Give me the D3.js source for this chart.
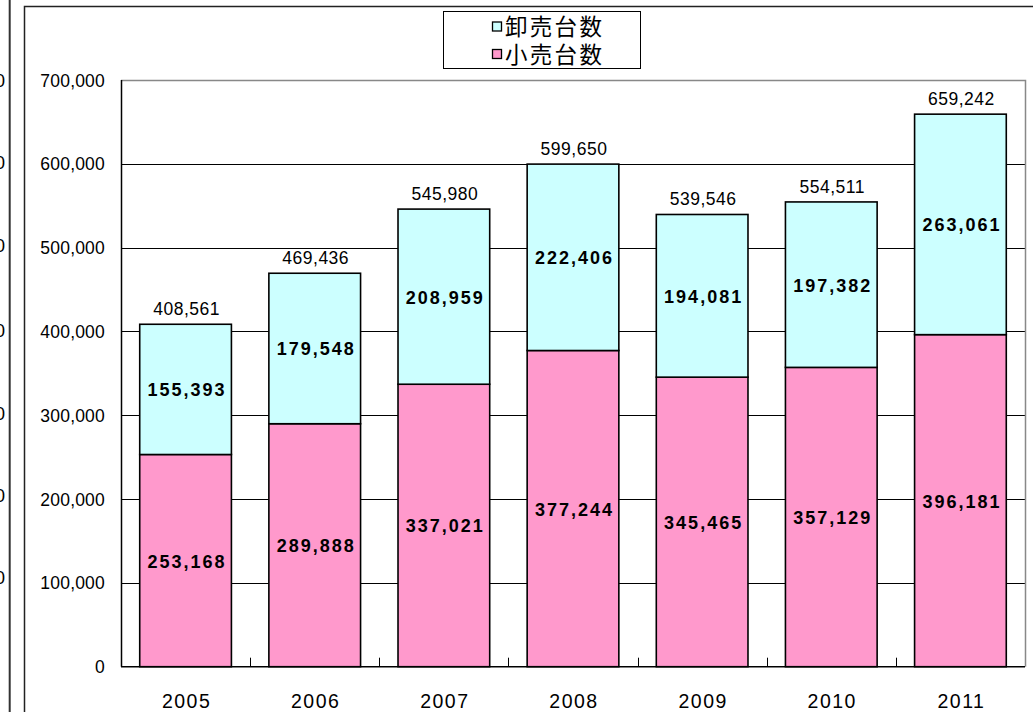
<!DOCTYPE html>
<html><head><meta charset="utf-8">
<script src="https://cdn.jsdelivr.net/npm/d3@7"></script>
<style>
html,body{margin:0;padding:0;background:#fff;}
svg{display:block;}
</style></head>
<body>
<svg id="chart" width="1033" height="712"></svg>
<script>
const years = ["2005","2006","2007","2008","2009","2010","2011"];
const retail = [253168, 289888, 337021, 377244, 345465, 357129, 396181];
const wholesale = [155393, 179548, 208959, 222406, 194081, 197382, 263061];
const totals = [408561, 469436, 545980, 599650, 539546, 554511, 659242];
const yTicks = [0, 100000, 200000, 300000, 400000, 500000, 600000, 700000];
const seriesNames = ["卸売台数", "小売台数"];
const colors = {wholesale: "#CCFFFF", retail: "#FF99CC"};
const leftFragmentTicks = [80, 162, 245, 330, 413, 495, 577];

const svg = d3.select("#chart");
const fmt = d3.format(",");
const numFont = "'Liberation Sans', Arial, sans-serif";
const cjkFont = "'Noto Sans CJK JP', sans-serif";

// Left cut-off chart fragment
svg.append("line").attr("x1",9.7).attr("x2",9.7).attr("y1",0).attr("y2",712)
  .attr("stroke","#333").attr("stroke-width",2);
svg.selectAll("text.frag").data(leftFragmentTicks).join("text")
  .attr("class","frag").attr("x",5).attr("y",d=>d+6.5)
  .attr("text-anchor","end").attr("font-family",numFont).attr("font-size",18)
  .attr("fill","#000").text("0");

// Main frame
svg.append("path").attr("d","M24.5,712 V6.5 H1040")
  .attr("fill","none").attr("stroke","#222").attr("stroke-width",1.5);

const m = {l:121, r:1025, t:80, b:666.7};
const x = d3.scaleBand().domain(years).range([m.l, m.r]).paddingInner(0.29).paddingOuter(0.145);
const xStep = d3.scaleBand().domain(years).range([m.l, m.r]).padding(0);
const y = d3.scaleLinear().domain([0, 700000]).range([m.b, m.t]);

// gridlines
svg.append("g").selectAll("line").data(yTicks.filter(d=>d>0 && d<700000)).join("line")
  .attr("x1",m.l).attr("x2",m.r).attr("y1",d=>Math.round(y(d))+0.5).attr("y2",d=>Math.round(y(d))+0.5)
  .attr("stroke","#000").attr("stroke-width",1);

// plot border top/right gray
svg.append("path").attr("d",`M${m.l},${Math.round(m.t)+0.5} H${m.r+0.5} V${m.b}`)
  .attr("fill","none").attr("stroke","#888").attr("stroke-width",1.5);

// y-axis labels
svg.append("g").selectAll("text").data(yTicks).join("text")
  .attr("x",105).attr("y",d=>y(d)+6.5)
  .attr("text-anchor","end").attr("font-family",numFont).attr("font-size",17.5)
  .attr("letter-spacing","0.2px").attr("fill","#000").text(d=>fmt(d));

// bars
const g = svg.append("g");
years.forEach((yr,i)=>{
  g.append("rect").attr("x",x(yr)).attr("width",x.bandwidth())
    .attr("y",y(retail[i])).attr("height",y(0)-y(retail[i]))
    .attr("fill",colors.retail).attr("stroke","#000").attr("stroke-width",1.6);
  g.append("rect").attr("x",x(yr)).attr("width",x.bandwidth())
    .attr("y",y(totals[i])).attr("height",y(retail[i])-y(totals[i]))
    .attr("fill",colors.wholesale).attr("stroke","#000").attr("stroke-width",1.6);
});

// axes lines
svg.append("line").attr("x1",m.l+0.5).attr("x2",m.l+0.5).attr("y1",m.t).attr("y2",m.b)
  .attr("stroke","#000").attr("stroke-width",1.5);
svg.append("line").attr("x1",m.l).attr("x2",m.r).attr("y1",m.b).attr("y2",m.b)
  .attr("stroke","#000").attr("stroke-width",1.5);
// category boundary ticks (inside)
svg.append("g").selectAll("line").data(years.slice(1)).join("line")
  .attr("x1",d=>Math.round(xStep(d))+0.5).attr("x2",d=>Math.round(xStep(d))+0.5)
  .attr("y1",m.b-9).attr("y2",m.b).attr("stroke","#000").attr("stroke-width",1);

// x labels
svg.append("g").selectAll("text").data(years).join("text")
  .attr("x",d=>x(d)+x.bandwidth()/2+1).attr("y",707.5)
  .attr("text-anchor","middle").attr("font-family",numFont).attr("font-size",19.5)
  .attr("letter-spacing","1.5px").attr("fill","#000").text(d=>d);

// total labels
svg.append("g").selectAll("text").data(years).join("text")
  .attr("x",(d)=>x(d)+x.bandwidth()/2+1).attr("y",(d,i)=>y(totals[i])-9)
  .attr("text-anchor","middle").attr("font-family",numFont).attr("font-size",17.5)
  .attr("letter-spacing","0.5px").attr("fill","#000").text((d,i)=>fmt(totals[i]));

// segment labels
function segLabel(vals, base){
  svg.append("g").selectAll("text").data(years).join("text")
    .attr("x",d=>x(d)+x.bandwidth()/2+1.5)
    .attr("y",(d,i)=>y(base[i]+vals[i]/2)+7)
    .attr("text-anchor","middle").attr("font-family",numFont).attr("font-size",18)
    .attr("font-weight","bold").attr("letter-spacing","2px").attr("fill","#000")
    .text((d,i)=>fmt(vals[i]));
}
segLabel(retail, retail.map(()=>0));
segLabel(wholesale, retail);

// legend
const lg = svg.append("g");
lg.append("rect").attr("x",443.5).attr("y",11.5).attr("width",197).attr("height",57)
  .attr("fill","#fff").attr("stroke","#000").attr("stroke-width",1);
const legendColors = [colors.wholesale, colors.retail];
seriesNames.forEach((n,i)=>{
  const cy = 26.5 + i*27.5;
  lg.append("rect").attr("x",492.5).attr("y",cy-4.5).attr("width",9).attr("height",9)
    .attr("fill",legendColors[i]).attr("stroke","#000").attr("stroke-width",1.3);
  lg.append("text").attr("x",505).attr("y",cy+8.5)
    .attr("font-family",cjkFont).attr("font-size",22.5).attr("letter-spacing","2.3px")
    .attr("fill","#000").text(n);
});
</script>
</body></html>
